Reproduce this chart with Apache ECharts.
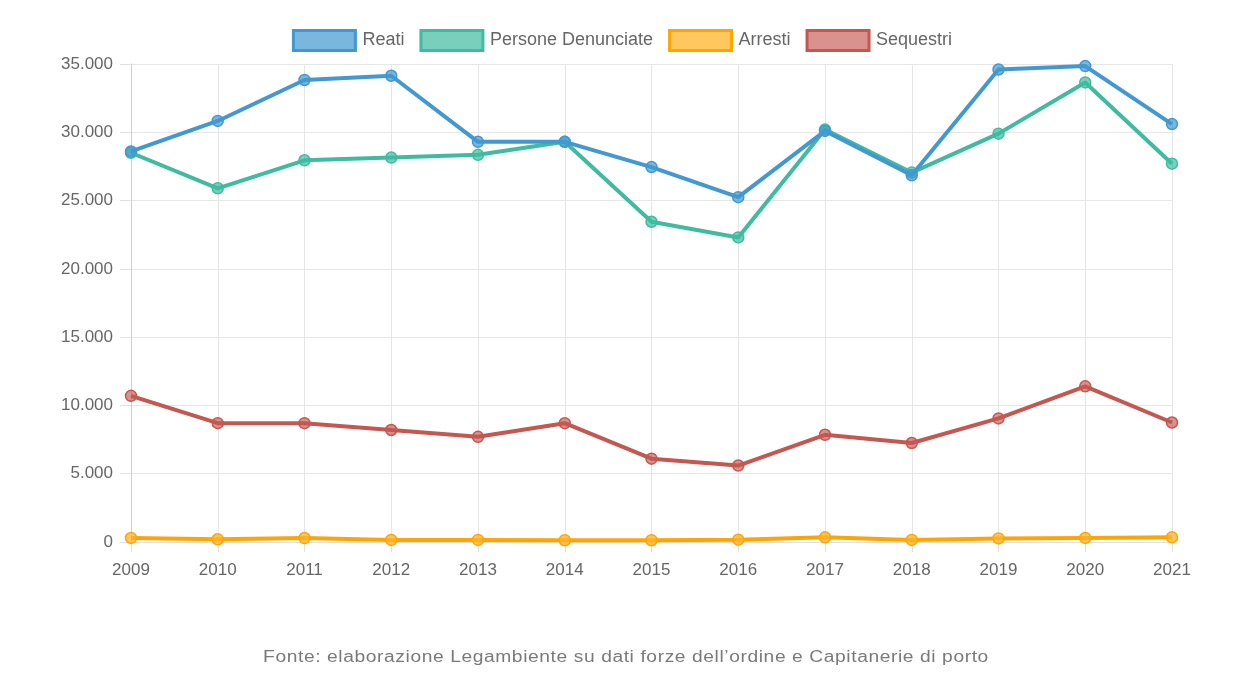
<!DOCTYPE html>
<html>
<head>
<meta charset="utf-8">
<script src="https://cdn.jsdelivr.net/npm/echarts@6/dist/echarts.min.js"></script>
<style>
html,body{margin:0;padding:0;background:#fff;}
#wrap{position:relative;width:1244px;height:698px;overflow:hidden;}
#chart{width:1244px;height:698px;}
#source{position:absolute;left:0;width:1252px;top:646px;text-align:center;
  font-family:"Liberation Sans",Arial,Helvetica,sans-serif;font-size:16px;letter-spacing:0.5px;color:#7a7a7a;line-height:22px;
  transform:scaleX(1.2);transform-origin:626px 0;}
</style>
</head>
<body>
<div id="wrap">
<div id="chart"></div>
<div id="source"></div>
</div>
<script>
const years = ['2009','2010','2011','2012','2013','2014','2015','2016','2017','2018','2019','2020','2021'];
const reati = [28600,30830,33830,34140,29300,29300,27450,25250,30100,26850,34600,34850,30600];
const persone = [28500,25900,27950,28150,28350,29300,23450,22300,30200,27050,29900,33650,27700];
const arresti = [300,200,290,150,150,130,130,170,340,150,260,300,340];
const sequestri = [10700,8700,8700,8200,7700,8700,6100,5600,7850,7250,9050,11400,8750];
const seriesNames = ['Reati','Persone Denunciate','Arresti','Sequestri'];
const sourceText = 'Fonte: elaborazione Legambiente su dati forze dell\u2019ordine e Capitanerie di porto';

document.getElementById('source').textContent = sourceText;

const colors = ['#4299d1','#3fbc9f','#ffa500','#c45850'];
const fills = ['rgba(66,153,209,0.7)','rgba(63,188,159,0.7)','rgba(255,180,40,0.75)','rgba(196,88,80,0.65)'];
const dataArr = [reati, persone, arresti, sequestri];
const zs = [8,7,6,5];

const chart = echarts.init(document.getElementById('chart'));
const font = 'Liberation Sans, Arial, Helvetica, sans-serif';
chart.setOption({
  animation:false,
  backgroundColor:'#fff',
  legend:{
    top:24, left:'center',
    itemWidth:62, itemHeight:20, itemGap:15,
    icon:'rect',
    textStyle:{color:'#666', fontSize:18, fontFamily:font, padding:[0,0,0,2]},
    data: seriesNames.map((n,i)=>({name:n, itemStyle:{color:fills[i], borderColor:colors[i], borderWidth:3}}))
  },
  grid:{left:131, right:72, top:64, bottom:156, containLabel:false},
  xAxis:{
    type:'category', data:years, boundaryGap:false,
    axisLine:{show:true, lineStyle:{color:'#e0e0e0'}},
    axisTick:{show:true, length:10, lineStyle:{color:'#e0e0e0'}},
    axisLabel:{color:'#666', fontSize:17, fontFamily:font, margin:20},
    splitLine:{show:true, lineStyle:{color:'#e6e6e6'}}
  },
  yAxis:{
    type:'value', min:0, max:35000, interval:5000,
    axisLine:{show:true, lineStyle:{color:'#cfcfcf'}},
    axisTick:{show:true, length:11, lineStyle:{color:'#e0e0e0'}},
    axisLabel:{color:'#666', fontSize:17, fontFamily:font, margin:18,
      formatter:v=>String(v).replace(/\B(?=(\d{3})+(?!\d))/g,'.')},
    splitLine:{show:true, lineStyle:{color:'#e6e6e6'}}
  },
  series: seriesNames.map((n,i)=>({
    name:n, type:'line', data:dataArr[i], z:zs[i],
    symbol:'circle', symbolSize:11, showSymbol:true,
    lineStyle:{color:colors[i], width:4},
    itemStyle:{color:fills[i], borderColor:colors[i], borderWidth:1.5}
  }))
});
</script>
</body>
</html>
